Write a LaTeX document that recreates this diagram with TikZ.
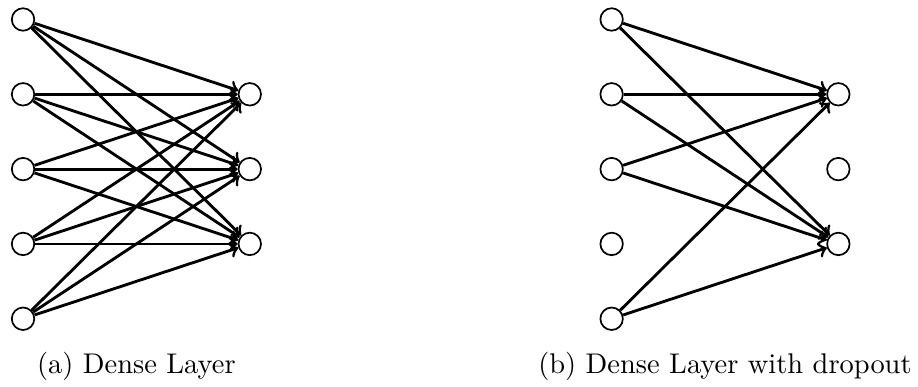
\documentclass[tikz,border=0pt]{standalone}
\usetikzlibrary{positioning, calc}

\begin{document}
\begin{tikzpicture}[
  neuron/.style={circle, draw, semithick, minimum size=7.9pt, inner sep=0pt},
  arrow/.style={->, line width=1pt},
  caption/.style={anchor=base},
  node distance=17.8pt and 71.2pt
]
\useasboundingbox (-8.1pt,6.85pt) rectangle (314.6pt,-129.15pt);

% (a) dense layer
\node[neuron] (a-in1) at (0,0) {};
\node[neuron, below=of a-in1] (a-in2) {};
\node[neuron, below=of a-in2] (a-in3) {};
\node[neuron, below=of a-in3] (a-in4) {};
\node[neuron, below=of a-in4] (a-in5) {};
\node[neuron, right=of a-in2] (a-out1) {};
\node[neuron, right=of a-in3] (a-out2) {};
\node[neuron, right=of a-in4] (a-out3) {};

% (b) dense layer with dropout
\node[neuron, right=198.4pt of a-in1] (b-in1) {};
\node[neuron, below=of b-in1] (b-in2) {};
\node[neuron, below=of b-in2] (b-in3) {};
\node[neuron, below=of b-in3] (b-in4) {};
\node[neuron, below=of b-in4] (b-in5) {};
\node[neuron, right=of b-in2] (b-out1) {};
\node[neuron, right=of b-in3] (b-out2) {};
\node[neuron, right=of b-in4] (b-out3) {};

% Captions
\coordinate (a-mid) at ($(a-in5)!0.5!(a-in5 -| a-out1)$);
\coordinate (b-mid) at ($(b-in5)!0.5!(b-in5 -| b-out1)$);
\node[caption] (a-cap) at ([yshift=-19.3pt]a-mid) {(a) Dense Layer};
\node[caption] (b-cap) at ([yshift=-19.3pt]b-mid) {(b) Dense Layer with dropout};

% Arrows (a)
\draw[arrow] (a-in1) -- (a-out1);
\draw[arrow] (a-in1) -- (a-out2);
\draw[arrow] (a-in1) -- (a-out3);
\draw[arrow] (a-in2) -- (a-out1);
\draw[arrow] (a-in2) -- (a-out2);
\draw[arrow] (a-in2) -- (a-out3);
\draw[arrow] (a-in3) -- (a-out1);
\draw[arrow] (a-in3) -- (a-out2);
\draw[arrow] (a-in3) -- (a-out3);
\draw[arrow] (a-in4) -- (a-out1);
\draw[arrow] (a-in4) -- (a-out2);
\draw[arrow] (a-in4) -- (a-out3);
\draw[arrow] (a-in5) -- (a-out1);
\draw[arrow] (a-in5) -- (a-out2);
\draw[arrow] (a-in5) -- (a-out3);

% Arrows (b)
\draw[arrow] (b-in1) -- (b-out1);
\draw[arrow] (b-in1) -- (b-out3);
\draw[arrow] (b-in2) -- (b-out1);
\draw[arrow] (b-in2) -- (b-out3);
\draw[arrow] (b-in3) -- (b-out1);
\draw[arrow] (b-in3) -- (b-out3);
\draw[arrow] (b-in5) -- (b-out1);
\draw[arrow] (b-in5) -- (b-out3);

\end{tikzpicture}
\end{document}
